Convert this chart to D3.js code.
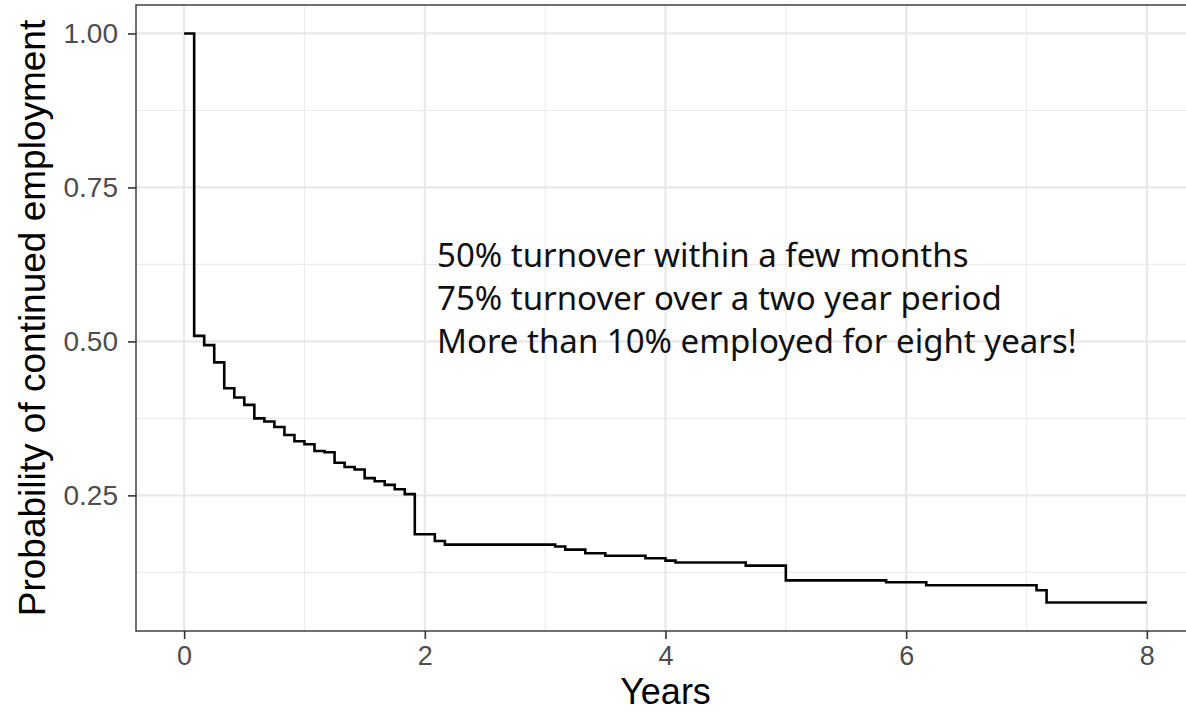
<!DOCTYPE html>
<html>
<head>
<meta charset="utf-8">
<script src="https://cdn.jsdelivr.net/npm/d3@7"></script>
<style>
  html, body { margin: 0; padding: 0; background: #ffffff; }
  svg { display: block; }
</style>
</head>
<body>
<svg id="chart" width="1186" height="718"></svg>
<script>
// ---- data (Kaplan-Meier style step curve) ----
const stepMonths = [0,1,2,3,4,5,6,7,8,9,10,11,12,13,14,15,16,17,18,19,20,21,22,23,25,26,37,38,40,42,46,48,49,56,60,70,74,85,86,96];
const survival   = [1.000,0.509,0.494,0.466,0.424,0.409,0.397,0.375,0.370,0.361,0.348,0.338,0.333,0.322,0.320,0.303,0.296,0.292,0.278,0.273,0.267,0.260,0.252,0.187,0.176,0.170,0.167,0.162,0.156,0.152,0.148,0.144,0.141,0.136,0.112,0.109,0.104,0.096,0.076,0.076];
const xTicks = [0, 2, 4, 6, 8];
const xMinor = [1, 3, 5, 7];
const yTicks = [0.25, 0.50, 0.75, 1.00];
const yMinor = [0.125, 0.375, 0.625, 0.875];
const annotationLines = [
  "50% turnover within a few months",
  "75% turnover over a two year period",
  "More than 10% employed for eight years!"
];
const xTitle = "Years";
const yTitle = "Probability of continued employment";

const pts = stepMonths.map((m, i) => ({ t: m / 12, s: survival[i] }));

const svg = d3.select("#chart");
svg.append("rect").attr("width", 1186).attr("height", 718).attr("fill", "#ffffff");

const panel = { left: 136, top: 5, right: 1195, bottom: 631 };

const xExt = d3.extent(pts, d => d.t);
const xPad = (xExt[1] - xExt[0]) * 0.05;
const x = d3.scaleLinear().domain([xExt[0] - xPad, xExt[1] + xPad]).range([panel.left, panel.right]);

const yExt = d3.extent(pts, d => d.s);
const yPad = (yExt[1] - yExt[0]) * 0.05;
const y = d3.scaleLinear().domain([yExt[0] - yPad, yExt[1] + yPad]).range([panel.bottom, panel.top]);

const g = svg.append("g");

// grid
g.selectAll(".xminor").data(xMinor).enter().append("line")
  .attr("x1", d => x(d)).attr("x2", d => x(d)).attr("y1", panel.top).attr("y2", panel.bottom)
  .attr("stroke", "#ebebeb").attr("stroke-width", 1.1);
g.selectAll(".yminor").data(yMinor).enter().append("line")
  .attr("y1", d => y(d)).attr("y2", d => y(d)).attr("x1", panel.left).attr("x2", panel.right)
  .attr("stroke", "#ebebeb").attr("stroke-width", 1.1);
g.selectAll(".xmajor").data(xTicks).enter().append("line")
  .attr("x1", d => x(d)).attr("x2", d => x(d)).attr("y1", panel.top).attr("y2", panel.bottom)
  .attr("stroke", "#e8e8e8").attr("stroke-width", 2.2);
g.selectAll(".ymajor").data(yTicks).enter().append("line")
  .attr("y1", d => y(d)).attr("y2", d => y(d)).attr("x1", panel.left).attr("x2", panel.right)
  .attr("stroke", "#e8e8e8").attr("stroke-width", 2.2);

// curve
const line = d3.line().x(d => x(d.t)).y(d => y(d.s)).curve(d3.curveStepAfter);
g.append("path").datum(pts).attr("d", line)
  .attr("fill", "none").attr("stroke", "#000000").attr("stroke-width", 2.6)
  .attr("stroke-linejoin", "miter");

// annotation
const ann = g.append("text")
  .attr("x", 437).attr("y", 267)
  .attr("font-family", "'Noto Sans', sans-serif")
  .attr("font-size", 33).attr("fill", "#111111");
ann.selectAll("tspan").data(annotationLines).enter().append("tspan")
  .attr("x", 437).attr("dy", (d, i) => i === 0 ? 0 : 43).text(d => d);

// panel border
g.append("rect")
  .attr("x", panel.left).attr("y", panel.top)
  .attr("width", panel.right - panel.left).attr("height", panel.bottom - panel.top)
  .attr("fill", "none").attr("stroke", "#333333").attr("stroke-width", 1.4);

// axes
const xAxis = d3.axisBottom(x).tickValues(xTicks).tickFormat(d3.format("d")).tickSize(8).tickPadding(7);
const xg = svg.append("g").attr("transform", `translate(0,${panel.bottom})`).call(xAxis);
xg.select(".domain").remove();
xg.selectAll(".tick line").attr("stroke", "#333333").attr("stroke-width", 1.6);
xg.selectAll(".tick text").attr("fill", "#4d4d4d").attr("font-size", 27)
  .attr("font-family", "'Liberation Sans', Arial, sans-serif");

const yAxis = d3.axisLeft(y).tickValues(yTicks).tickFormat(d3.format(".2f")).tickSize(8).tickPadding(10);
const yg = svg.append("g").attr("transform", `translate(${panel.left},0)`).call(yAxis);
yg.select(".domain").remove();
yg.selectAll(".tick line").attr("stroke", "#333333").attr("stroke-width", 1.6);
yg.selectAll(".tick text").attr("fill", "#4d4d4d").attr("font-size", 28)
  .attr("font-family", "'Liberation Sans', Arial, sans-serif");

// titles
svg.append("text").attr("x", (panel.left + panel.right) / 2).attr("y", 704)
  .attr("text-anchor", "middle").attr("font-family", "'Liberation Sans', Arial, sans-serif")
  .attr("font-size", 36).attr("fill", "#000000").text(xTitle);
svg.append("text").attr("transform", `translate(45,${(panel.top + panel.bottom) / 2}) rotate(-90)`)
  .attr("text-anchor", "middle").attr("font-family", "'Liberation Sans', Arial, sans-serif")
  .attr("font-size", 37).attr("fill", "#000000").text(yTitle);
</script>
</body>
</html>
